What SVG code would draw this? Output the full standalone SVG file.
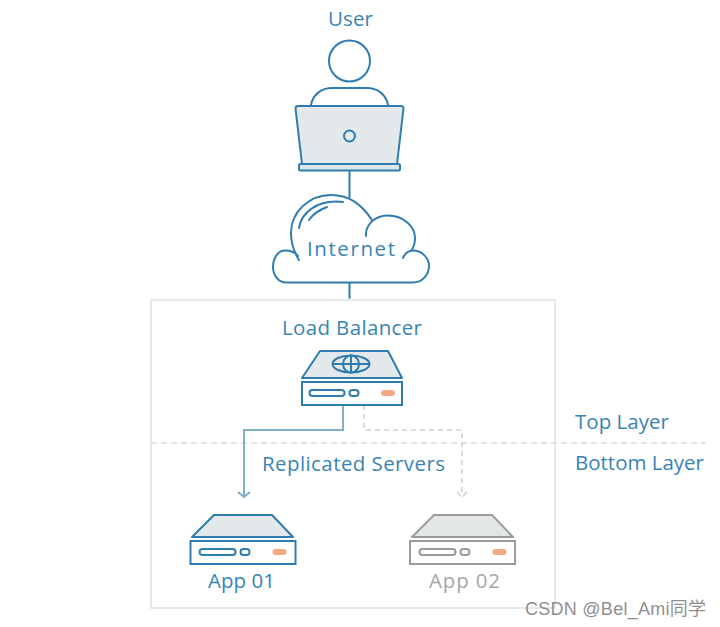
<svg xmlns="http://www.w3.org/2000/svg" width="720" height="627" viewBox="0 0 720 627">
<style>
.t{font-family:"Open Sans","Lato","Liberation Sans",sans-serif;font-size:20.500px;fill:#3a84b4}
.g{fill:#a6a6a6}
.s{fill:none;stroke:#2f7cae;stroke-width:2;stroke-linecap:round}
.f{fill:#e3e8ea;stroke:#2f7cae;stroke-width:2;stroke-linejoin:round}
.w{fill:#fff;stroke:#2f7cae;stroke-width:2}
.sg{fill:none;stroke:#9b9b9b;stroke-width:2}
.fg{fill:#e3e6e7;stroke:#9b9b9b;stroke-width:2;stroke-linejoin:round}
.wg{fill:#fff;stroke:#9b9b9b;stroke-width:2}
.o{fill:#f2a984}
.box{fill:none;stroke:#e8e8e8;stroke-width:2}
.d{fill:none;stroke:#dcdcdc;stroke-width:1.500;stroke-dasharray:6 4}
.cb{fill:none;stroke:#7fb0c6;stroke-width:2}
.cg{fill:none;stroke:#cfcfcf;stroke-width:1.500;stroke-dasharray:5 4}
</style>
<rect width="720" height="627" fill="#fff"/>
<g id="frame">
<rect class="box" x="151" y="300" width="404" height="308"/>
<line class="d" x1="151" y1="443" x2="706" y2="443"/>
</g>
<g id="connectors">
<line x1="349.500" y1="171" x2="349.500" y2="197" class="s"/>
<line x1="349.500" y1="283" x2="349.500" y2="298" class="s"/>
<path class="cb" d="M343 405V430H244V497"/>
<path class="cb" d="M238 492L244 497L250 492"/>
<path class="cg" d="M364 405V430H462V497"/>
<path class="cg" d="M457 492L462 497L467 492"/>
</g>
<g id="user">
<text class="t" x="328" y="26" textLength="45" lengthAdjust="spacing">User</text>
<circle class="s" cx="349.500" cy="61" r="20.500"/>
<path class="s" d="M311 105C313 94 322 88 332 88H367C377 88 386 94 388 105"/>
<path class="f" d="M298 106H401Q403.500 106 403.500 108.500L397 164H302L295.500 108.500Q295.500 106 298 106Z"/>
<rect x="299" y="164" width="101" height="6.500" rx="1.500" fill="#dce6ec" stroke="#2f7cae" stroke-width="2"/>
<circle class="s" cx="349.500" cy="136" r="5.500"/>
</g>
<g id="internet">
<path class="s" d="M298 256C295 252 290 250.500 285 250.500C278 250.500 273 258 273 267C273 276 279 282.500 286 282.500H413C422 282.500 429 275 429 266C429 257 421 250.500 413 250.500C409 250.500 405 253 403 258"/>
<path class="s" d="M366 236C365 225 375 215.500 388 215.500C403 215.500 415 226 415 238C415 243 414 247 411 251"/>
<path class="s" d="M372 220C362 205 350 195 331 195C309 195 291 212 291 233C291 242 294 252 299 260"/>
<path class="s" d="M299 228C301 214 316 199 343 202"/>
<path class="s" d="M309 220C313 214 319 210 327 207"/>
<text class="t" x="307" y="256" textLength="88" lengthAdjust="spacing">Internet</text>
</g>
<g id="load-balancer">
<text class="t" x="282" y="335" textLength="140" lengthAdjust="spacing">Load Balancer</text>
<path class="f" d="M320 351H388L402 378H302Z"/>
<rect class="w" x="302" y="382" width="100" height="23"/>
<rect class="s" x="309.500" y="390" width="35" height="6" rx="3"/>
<rect class="s" x="349.500" y="390" width="9" height="6" rx="3"/>
<rect class="o" x="381" y="390" width="14" height="6" rx="3"/>
<ellipse class="s" cx="351" cy="364" rx="18.500" ry="8.500"/>
<ellipse class="s" cx="351" cy="364" rx="8" ry="8.500"/>
<line class="s" x1="351" y1="355.500" x2="351" y2="372.500"/>
<line class="s" x1="333" y1="364" x2="369" y2="364"/>
</g>
<g id="labels">
<text class="t" x="575" y="429" textLength="94" lengthAdjust="spacing">Top Layer</text>
<text class="t" x="575" y="470" textLength="129" lengthAdjust="spacing">Bottom Layer</text>
<text class="t" x="262" y="471" textLength="183" lengthAdjust="spacing">Replicated Servers</text>
</g>
<g id="app-01">
<path class="f" d="M214 515H272L293 537H192Z"/>
<rect class="w" x="190.500" y="541" width="105" height="23"/>
<rect class="s" x="199.500" y="549" width="36" height="6" rx="3"/>
<rect class="s" x="240.500" y="549" width="9" height="6" rx="3"/>
<rect class="o" x="272.500" y="549" width="14" height="6" rx="3"/>
<text class="t" x="208" y="588" textLength="67" lengthAdjust="spacing">App 01</text>
</g>
<g id="app-02">
<path class="fg" d="M434 515H492L513 537H412Z"/>
<rect class="wg" x="410" y="541" width="105" height="23"/>
<rect class="sg" x="419.500" y="549" width="36" height="6" rx="3"/>
<rect class="sg" x="460.500" y="549" width="9" height="6" rx="3"/>
<rect class="o" x="492.500" y="549" width="14" height="6" rx="3"/>
<text class="t g" x="429" y="588" textLength="71" lengthAdjust="spacing">App 02</text>
</g>
<g id="watermark">
<text x="525" y="615" font-family="'Liberation Sans','Noto Sans CJK SC',sans-serif" font-size="18" fill="#8f8f8f" textLength="181" lengthAdjust="spacing">CSDN @Bel_Ami同学</text>
</g>
</svg>
